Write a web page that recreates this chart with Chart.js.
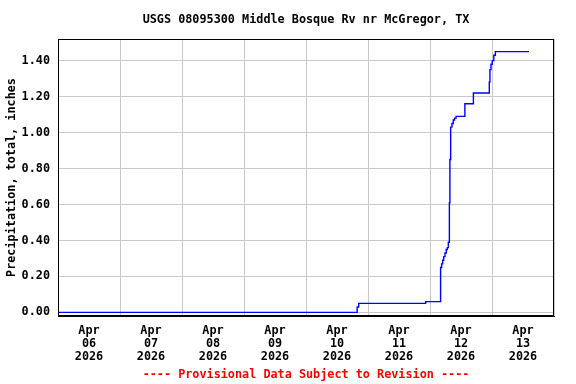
<!DOCTYPE html>
<html>
<head>
<meta charset="utf-8">
<script src="https://cdn.jsdelivr.net/npm/chart.js@4/dist/chart.umd.min.js"></script>
<style>
  html, body { margin: 0; padding: 0; background: #fff; }
  #wrap { width: 576px; height: 384px; }
</style>
</head>
<body>
<div id="wrap"><canvas id="c" width="576" height="384"></canvas></div>
<script>
// Hours since 2026-04-06 00:00 and cumulative precipitation (inches)
const hours = [0, 115.3, 115.8, 116.4, 142.3, 148.1, 148.5, 148.9, 149.3, 149.8, 150.3, 150.7, 151.1,
               151.5, 151.7, 152.0, 152.5, 153.0, 153.5, 154.1, 157.5, 160.8, 166.95, 167.2, 167.6,
               168.1, 168.7, 169.3, 182.3];
const precip = [0.00, 0.00, 0.03, 0.05, 0.06, 0.25, 0.27, 0.29, 0.31, 0.33, 0.35, 0.36, 0.39,
                0.61, 0.85, 1.03, 1.05, 1.07, 1.08, 1.09, 1.16, 1.22, 1.28, 1.35, 1.38,
                1.40, 1.43, 1.45, 1.45];
const dayLabels = ["06", "07", "08", "09", "10", "11", "12", "13"];
const monthLabel = "Apr";
const yearLabel = "2026";
const yTicks = [0.00, 0.20, 0.40, 0.60, 0.80, 1.00, 1.20, 1.40];
const titleText = "USGS 08095300 Middle Bosque Rv nr McGregor, TX";
const footerText = "---- Provisional Data Subject to Revision ----";
const yTitle = "Precipitation, total, inches";

const FONT = "'DejaVu Sans Mono', monospace";
const FSIZE = 11.8;

const points = hours.map((h, i) => ({ x: h, y: precip[i] }));

const frame = {
  id: 'frame',
  afterDraw(chart) {
    const { ctx, chartArea: a } = chart;
    ctx.save();
    ctx.strokeStyle = '#000';
    ctx.lineWidth = 1;
    const L = Math.round(a.left) + 0.5, T = Math.round(a.top) + 0.5;
    const R = Math.round(a.right) - 0.5, B = Math.round(a.bottom) - 0.5;
    ctx.strokeRect(L, T, R - L, B - T);
    const cx = (a.left + a.right) / 2;
    ctx.font = 'bold ' + FSIZE + 'px ' + FONT;
    ctx.textAlign = 'center';
    ctx.textBaseline = 'middle';
    ctx.fillStyle = '#000';
    ctx.fillText(titleText, cx, 20);
    ctx.fillStyle = '#ff0000';
    ctx.fillText(footerText, cx, 375);
    ctx.restore();
  }
};

new Chart(document.getElementById('c'), {
  type: 'line',
  data: {
    datasets: [{
      data: points,
      borderColor: '#0000ff',
      borderWidth: 1.4,
      stepped: true,
      pointRadius: 0,
      fill: false
    }]
  },
  options: {
    responsive: false,
    animation: false,
    events: [],
    layout: { padding: { top: 39, bottom: 20.6, left: 0, right: 22 } },
    plugins: { legend: { display: false }, tooltip: { enabled: false }, title: { display: false } },
    scales: {
      x: {
        type: 'linear',
        min: 0,
        max: 192,
        afterBuildTicks(axis) {
          const t = [];
          for (let h = 0; h <= 192; h += 12) t.push({ value: h });
          axis.ticks = t;
        },
        afterFit(scale) { scale.height = 47.4; },
        grid: {
          drawTicks: false,
          lineWidth: 1,
          color: (ctx) => (ctx.tick && ctx.tick.value % 24 === 0) ? '#c8c8c8' : 'rgba(0,0,0,0)'
        },
        border: { display: true, color: '#000', width: 1 },
        ticks: {
          autoSkip: false,
          maxRotation: 0,
          padding: 8,
          color: '#000',
          font: { family: FONT, size: FSIZE, weight: 'bold', lineHeight: 1.12 },
          callback: (v) => {
            if (v % 24 !== 12) return '';
            const d = Math.floor(v / 24);
            return [monthLabel, dayLabels[d], yearLabel];
          }
        }
      },
      y: {
        min: -0.02,
        max: 1.52,
        afterBuildTicks(axis) { axis.ticks = yTicks.map(v => ({ value: v })); },
        afterFit(scale) { scale.width = 58; },
        grid: { drawTicks: false, color: '#c8c8c8', lineWidth: 1 },
        border: { display: true, color: '#000', width: 1 },
        ticks: {
          padding: 8,
          color: '#000',
          font: { family: FONT, size: FSIZE, weight: 'bold' },
          callback: (v) => v.toFixed(2)
        },
        title: {
          display: true,
          text: yTitle,
          color: '#000',
          padding: { top: 5, bottom: 0 },
          font: { family: FONT, size: FSIZE, weight: 'bold' }
        }
      }
    }
  },
  plugins: [frame]
});
</script>
</body>
</html>
